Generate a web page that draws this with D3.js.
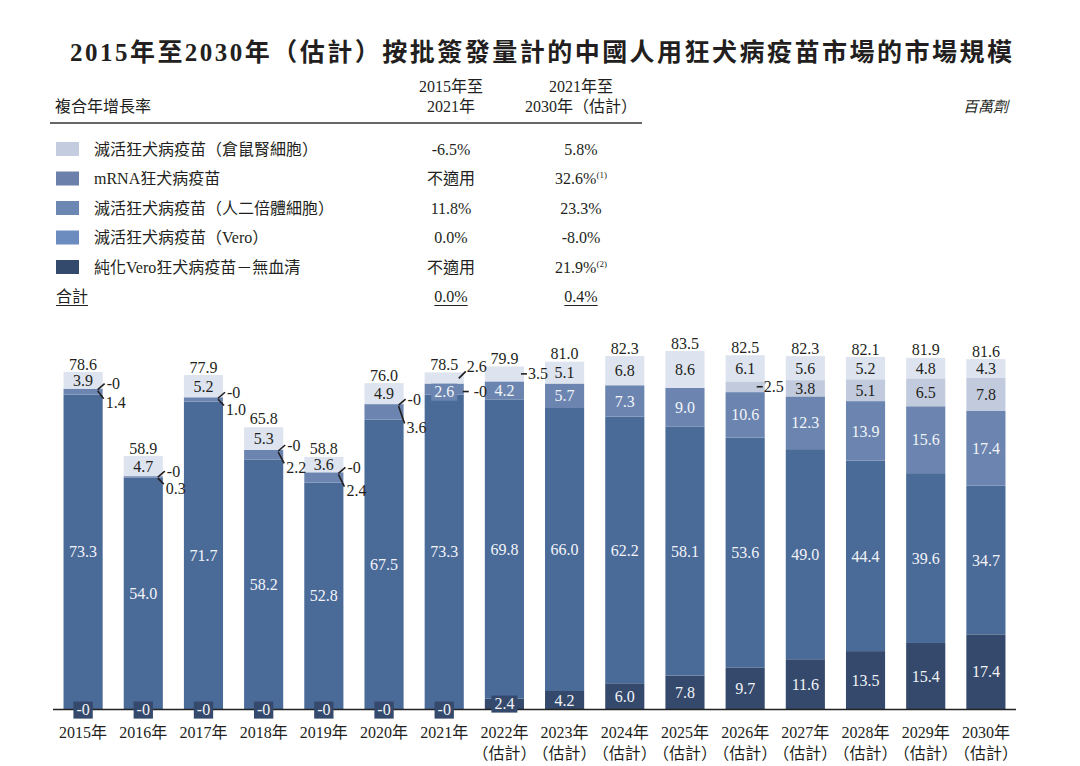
<!DOCTYPE html>
<html>
<head>
<meta charset="utf-8">
<script src="https://cdn.jsdelivr.net/npm/d3@7"></script>
<style>
  body { margin: 0; background: #fff; }
  svg text { font-family: "Liberation Serif", "Noto Sans CJK TC", serif; fill: #231f20; }
</style>
</head>
<body>
<div id="chart"></div>
<script>
// chart values
var years = ["2015年", "2016年", "2017年", "2018年", "2019年", "2020年", "2021年", "2022年",
             "2023年", "2024年", "2025年", "2026年", "2027年", "2028年", "2029年", "2030年"];
var yearNotes = ["", "", "", "", "", "", "", "（估計）", "（估計）", "（估計）", "（估計）",
                 "（估計）", "（估計）", "（估計）", "（估計）", "（估計）"];

var hamster  = [3.9, 4.7, 5.2, 5.3, 3.6, 4.9, 2.6, 3.5, 5.1, 6.8, 8.6, 6.1, 5.6, 5.2, 4.8, 4.3];
var mrna     = [0, 0, 0, 0, 0, 0, 0, 0, 0, 0, 0, 2.5, 3.8, 5.1, 6.5, 7.8];
var diploid  = [1.4, 0.3, 1.0, 2.2, 2.4, 3.6, 2.6, 4.2, 5.7, 7.3, 9.0, 10.6, 12.3, 13.9, 15.6, 17.4];
var vero     = [73.3, 54.0, 71.7, 58.2, 52.8, 67.5, 73.3, 69.8, 66.0, 62.2, 58.1, 53.6, 49.0, 44.4, 39.6, 34.7];
var purified = [0, 0, 0, 0, 0, 0, 0, 2.4, 4.2, 6.0, 7.8, 9.7, 11.6, 13.5, 15.4, 17.4];
var totals   = [78.6, 58.9, 77.9, 65.8, 58.8, 76.0, 78.5, 79.9, 81.0, 82.3, 83.5, 82.5, 82.3, 82.1, 81.9, 81.6];

// legend / CAGR table
var seriesNames = ["滅活狂犬病疫苗（倉鼠腎細胞）", "mRNA狂犬病疫苗", "滅活狂犬病疫苗（人二倍體細胞）",
                   "滅活狂犬病疫苗（Vero）", "純化Vero狂犬病疫苗－無血清"];
var cagrA = ["-6.5%", "不適用", "11.8%", "0.0%", "不適用"];
var cagrB = ["5.8%", "32.6%", "23.3%", "-8.0%", "21.9%"];
var cagrNotes = ["", "(1)", "", "", "(2)"];
var cagrTotal = ["0.0%", "0.4%"];

var title = "2015年至2030年（估計）按批簽發量計的中國人用狂犬病疫苗市場的市場規模";

var W = 1080, H = 766;
var svg = d3.select("#chart").append("svg").attr("width", W).attr("height", H);

/*** title */
svg.append("text")
    .attr("x", 70).attr("y", 61)
    .attr("textLength", 942).attr("lengthAdjust", "spacing")
    .style("font-size", "25px").style("font-weight", "bold")
    .text(title);

/*** CAGR table */
var legendColors = ["#c4cde0", "#6b80aa", "#6d87b3", "#6c8cbf", "#344a6c"];
var colA = 451, colB = 581;

svg.append("text").attr("x", 55).attr("y", 112).style("font-size", "16px").text("複合年增長率");
svg.append("text").attr("x", colA).attr("y", 92).attr("text-anchor", "middle").style("font-size", "16px").text("2015年至");
svg.append("text").attr("x", colA).attr("y", 112).attr("text-anchor", "middle").style("font-size", "16px").text("2021年");
svg.append("text").attr("x", colB).attr("y", 92).attr("text-anchor", "middle").style("font-size", "16px").text("2021年至");
svg.append("text").attr("x", colB).attr("y", 112).attr("text-anchor", "middle").style("font-size", "16px").text("2030年（估計）");
svg.append("text").attr("x", 1008).attr("y", 112).attr("text-anchor", "end")
    .style("font-size", "15px").style("font-style", "italic").text("百萬劑");

svg.append("line").attr("x1", 50).attr("x2", 642).attr("y1", 123).attr("y2", 123)
    .attr("stroke", "#333").attr("stroke-width", 1.6);

var rowY = d3.scaleLinear().domain([0, 1]).range([149, 178.5]);

var rows = svg.selectAll(".legend-row")
    .data(seriesNames)
    .enter().append("g")
    .attr("class", "legend-row")
    .attr("transform", function(d, i) { return "translate(0," + rowY(i) + ")"; });

rows.append("rect")
    .attr("x", 56).attr("y", -7).attr("width", 23).attr("height", 14)
    .attr("fill", function(d, i) { return legendColors[i]; });

rows.append("text")
    .attr("x", 94).attr("y", 5.5).style("font-size", "16px")
    .text(function(d) { return d; });

rows.append("text")
    .attr("x", colA).attr("y", 5.5).attr("text-anchor", "middle").style("font-size", "16px")
    .text(function(d, i) { return cagrA[i]; });

var cb = rows.append("text")
    .attr("x", colB).attr("y", 5.5).attr("text-anchor", "middle").style("font-size", "16px");
cb.append("tspan").text(function(d, i) { return cagrB[i]; });
cb.append("tspan").attr("dy", -6).style("font-size", "9px").text(function(d, i) { return cagrNotes[i]; });

// total row with underlines
var totY = rowY(5) + 5.5;
function underlined(x, anchor, txt) {
    var t = svg.append("text").attr("x", x).attr("y", totY).attr("text-anchor", anchor)
        .style("font-size", "16px").text(txt);
    var b = t.node().getBBox();
    svg.append("line").attr("x1", b.x).attr("x2", b.x + b.width)
        .attr("y1", totY + 3.5).attr("y2", totY + 3.5)
        .attr("stroke", "#231f20").attr("stroke-width", 1);
}
underlined(56, "start", "合計");
underlined(colA, "middle", cagrTotal[0]);
underlined(colB, "middle", cagrTotal[1]);

/*** stacked bars */
var keys = ["purified", "vero", "diploid", "mrna", "hamster"];
var barColors = { purified: "#34496b", vero: "#4a6a98", diploid: "#6b85b0", mrna: "#c2cbdd", hamster: "#dde3ef" };
var table = years.map(function(y, i) {
    return { year: y, i: i, purified: purified[i], vero: vero[i], diploid: diploid[i],
             mrna: mrna[i], hamster: hamster[i], total: totals[i] };
});
var stacked = d3.stack().keys(keys)(table);

var x = d3.scaleBand().domain(years).range([53, 1016]).paddingInner(0.35).paddingOuter(0.175);
var y = d3.scaleLinear().domain([0, 90]).range([709, 709 - 90 * 4.288]);
var bw = x.bandwidth();

svg.append("g").selectAll("g")
    .data(stacked)
    .enter().append("g")
    .attr("fill", function(d) { return barColors[d.key]; })
    .selectAll("rect")
    .data(function(d) { return d; })
    .enter().append("rect")
    .attr("x", function(d) { return x(d.data.year); })
    .attr("y", function(d) { return y(d[1]); })
    .attr("width", bw)
    .attr("height", function(d) { return y(d[0]) - y(d[1]); });

// baseline
svg.append("line").attr("x1", 53).attr("x2", 1016).attr("y1", y(0) + 0.5).attr("y2", y(0) + 0.5)
    .attr("stroke", "#222").attr("stroke-width", 1.6);

var labels = svg.append("g").style("font-size", "16px");
function fmt(v) { return v === 0 ? "-0" : v.toFixed(1); }

function label(xc, yc, txt, anchor, color, boxColor) {
    var t = labels.append("text").attr("x", xc).attr("y", yc).attr("dy", "0.35em")
        .attr("text-anchor", anchor || "middle").text(txt);
    if (color) t.style("fill", color);
    if (boxColor) {
        var b = t.node().getBBox();
        labels.insert("rect", function() { return t.node(); })
            .attr("x", b.x - 3).attr("y", b.y + 1).attr("width", b.width + 6).attr("height", b.height)
            .attr("fill", boxColor);
    }
    return t;
}
function leader(x1, y1, x2, y2) {
    labels.append("line").attr("x1", x1).attr("y1", y1).attr("x2", x2).attr("y2", y2)
        .attr("stroke", "#231f20").attr("stroke-width", 1.6);
}

var white = "#f2f4f8";
table.forEach(function(d, i) {
    var x0 = x(d.year), xc = x0 + bw / 2, xr = x0 + bw;
    var s = {};
    stacked.forEach(function(ser) { s[ser.key] = ser[i]; });
    var mid = function(k) { return (y(s[k][0]) + y(s[k][1])) / 2; };
    var hgt = function(k) { return y(s[k][0]) - y(s[k][1]); };

    // total on top
    label(xc, y(d.total) - 8, d.total.toFixed(1));

    // purified (bottom)
    if (d.purified === 0) {
        label(xc, y(0), "-0", "middle", white, barColors.purified);
    } else if (hgt("purified") < 16) {
        label(xc, y(0) - 6, fmt(d.purified), "middle", white, barColors.purified);
    } else {
        label(xc, mid("purified"), fmt(d.purified), "middle", white);
    }

    // vero
    label(xc, mid("vero"), fmt(d.vero), "middle", white);

    var y0 = y(s.diploid[1]);
    if (i < 6) {
        // small diploid + zero mRNA pushed outside with leader strokes
        leader(xr - 5, y0 + 1, xr + 2, y0 - 5);
        label(xr + 4, y0 - 5, "-0", "start");
        var ly = Math.max(y0 + 12, y(s.diploid[0]) + 8);
        leader(xr - 5, y0 + 2, xr + 1, ly - 4);
        label(xr + 3, ly, fmt(d.diploid), "start");
        label(xc, mid("hamster"), fmt(d.hamster));
    } else {
        if (hgt("diploid") < 16) {
            label(xc, mid("diploid") + 2, fmt(d.diploid), "middle", white, barColors.diploid);
        } else {
            label(xc, mid("diploid"), fmt(d.diploid), "middle", white);
        }
        // mRNA
        if (d.mrna === 0 && i === 6) {
            leader(xr - 1, y0 + 8, xr + 5, y0 + 8);
            label(xr + 10, y0 + 8, "-0", "start");
        } else if (d.mrna > 0 && hgt("mrna") < 14) {
            leader(xr - 8, mid("mrna"), xr - 2, mid("mrna"));
            label(xr - 1, mid("mrna"), fmt(d.mrna), "start");
        } else if (d.mrna > 0) {
            label(xc, mid("mrna"), fmt(d.mrna));
        }
        // hamster (top)
        if (i === 6) {
            leader(xr - 5, y(d.total) + 6, xr + 2, y(d.total) - 1);
            label(xr + 3, y(d.total) - 6, fmt(d.hamster), "start");
        } else if (hgt("hamster") < 17) {
            leader(xr - 3, mid("hamster"), xr + 3, mid("hamster"));
            label(xr + 4, mid("hamster"), fmt(d.hamster), "start");
        } else {
            label(xc, mid("hamster"), fmt(d.hamster));
        }
    }
});

/*** x axis labels */
var xl = svg.append("g").style("font-size", "16px");
xl.selectAll(".yr").data(years).enter().append("text")
    .attr("x", function(d) { return x(d) + bw / 2; })
    .attr("y", 738).attr("text-anchor", "middle")
    .text(function(d) { return d; });
xl.selectAll(".note").data(years).enter().append("text")
    .attr("x", function(d) { return x(d) + bw / 2; })
    .attr("y", 759).attr("text-anchor", "middle")
    .text(function(d, i) { return yearNotes[i]; });
</script>
</body>
</html>
